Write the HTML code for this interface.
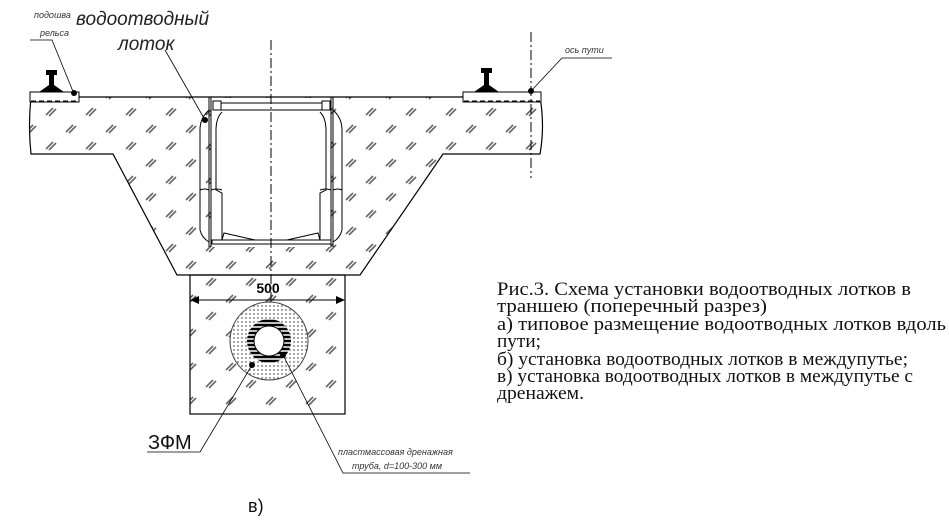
<!DOCTYPE html>
<html><head><meta charset="utf-8">
<style>
html,body{margin:0;padding:0;background:#fff;}
svg{display:block;}
.it{font-family:"Liberation Sans",sans-serif;font-style:italic;}
.sf{font-family:"Liberation Serif",serif;font-size:19px;fill:#111;}
</style></head><body>
<svg width="949" height="525" viewBox="0 0 949 525" xmlns="http://www.w3.org/2000/svg">
<defs>
<pattern id="h" width="40" height="34" patternUnits="userSpaceOnUse">
  <g stroke="#666" stroke-width="1.6">
    <line x1="6" y1="13" x2="13" y2="6"/><line x1="9" y1="14" x2="16" y2="7"/>
    <line x1="26" y1="30" x2="33" y2="23"/><line x1="29" y1="31" x2="36" y2="24"/>
  </g>
</pattern>
<pattern id="d" width="4" height="4" patternUnits="userSpaceOnUse">
  <circle cx="2" cy="2" r="0.7" fill="#222"/>
</pattern>
<clipPath id="ring"><circle cx="269" cy="341" r="22"/></clipPath>
</defs>

<path d="M31,97 L540,97 Q545,126 540,154 L443,154 L360,275 L177,275 L113,154 L31,154 Q28,126 31,97 Z" fill="url(#h)" stroke="#000" stroke-width="1.2"/>
<rect x="211" y="98" width="120" height="149" fill="#fff"/>
<rect x="190" y="275" width="155" height="139" fill="url(#h)" stroke="#000" stroke-width="1.2"/>
<rect x="30" y="92" width="49" height="10" fill="#fff" stroke="#000" stroke-width="1"/>
<line x1="31" y1="101" x2="78" y2="101" stroke="#000" stroke-dasharray="5,3"/>
<rect x="463" y="92" width="78" height="10" fill="#fff" stroke="#000" stroke-width="1"/>
<line x1="464" y1="101" x2="540" y2="101" stroke="#000" stroke-dasharray="5,3"/>
<path d="M46,70 h11 v5 h-3 v10 l10,7 h-25 l10,-7 v-10 h-3 z" fill="#000"/>
<path d="M481,68 h11 v5 h-3 v12 l10,7 h-25 l10,-7 v-12 h-3 z" fill="#000"/>

<g stroke="#000" stroke-width="1" fill="none">
  <line x1="209" y1="97" x2="209" y2="247"/><line x1="211" y1="97" x2="211" y2="247"/>
  <line x1="331" y1="97" x2="331" y2="247"/><line x1="333" y1="97" x2="333" y2="247"/>
  <path d="M209,110 Q200,118 200,130 L200,230 Q202,238 209,242"/>
  <path d="M333,110 Q342,118 342,130 L342,230 Q340,238 333,242"/>
  <path d="M200,190 q5,-2 9,0"/><path d="M333,190 q5,-2 9,0"/>
  <path d="M222,112 Q216,118 216,130 L216,190 L222,193 L222,240"/>
  <path d="M320,112 Q326,118 326,130 L326,190 L320,193 L320,240"/>
  <path d="M211,190 q6,-2 11,0"/><path d="M320,190 q6,-2 11,0"/>
  <line x1="221" y1="103" x2="322" y2="103"/><line x1="221" y1="110" x2="322" y2="110"/>
  <rect x="213" y="101" width="8" height="9" fill="#fff"/>
  <rect x="322" y="101" width="8" height="9" fill="#fff"/>
  <rect x="212" y="240" width="119" height="4"/>
  <path d="M222,240 L224,233 L255,240"/><path d="M320,240 L318,233 L287,240"/>
</g>

<line x1="271" y1="40" x2="271" y2="300" stroke="#000" stroke-width="1" stroke-dasharray="10,3,2,3"/>
<line x1="531" y1="32" x2="531" y2="178" stroke="#000" stroke-width="1" stroke-dasharray="10,3,2,3"/>

<circle cx="269" cy="341" r="39" fill="#fff" stroke="#444" stroke-width="1"/>
<circle cx="269" cy="341" r="39" fill="url(#d)"/>
<circle cx="269" cy="341" r="22" fill="#fff"/>
<g clip-path="url(#ring)" stroke="#000" stroke-width="2.4">
  <line x1="240" y1="321" x2="300" y2="321"/><line x1="240" y1="325" x2="300" y2="325"/>
  <line x1="240" y1="329" x2="300" y2="329"/><line x1="240" y1="333" x2="300" y2="333"/>
  <line x1="240" y1="337" x2="300" y2="337"/><line x1="240" y1="341" x2="300" y2="341"/>
  <line x1="240" y1="345" x2="300" y2="345"/><line x1="240" y1="349" x2="300" y2="349"/>
  <line x1="240" y1="353" x2="300" y2="353"/><line x1="240" y1="357" x2="300" y2="357"/>
  <line x1="240" y1="361" x2="300" y2="361"/>
</g>
<circle cx="269" cy="341" r="15" fill="#fff" stroke="#000" stroke-width="1"/>

<line x1="196" y1="300" x2="339" y2="300" stroke="#000" stroke-width="1"/>
<path d="M190,300 l9,-4 v8 z M345,300 l-9,-4 v8 z" fill="#000"/>
<text x="268" y="293" font-family="Liberation Sans,sans-serif" font-weight="bold" font-size="14" text-anchor="middle">500</text>

<g stroke="#000" stroke-width="0.8" fill="none">
  <path d="M74,94 L52,40 L30,40"/>
  <path d="M205,120 L165,50"/>
  <path d="M531,91 L562,58 L612,58"/>
  <path d="M252,365 L200,452 L147,452"/>
  <path d="M283,355 L343,473 L470,473"/>
</g>
<g fill="#000">
  <circle cx="74" cy="93" r="3"/><circle cx="205" cy="120" r="3"/>
  <circle cx="531" cy="91" r="3"/><circle cx="252" cy="365" r="3"/><circle cx="283" cy="355" r="3"/>
</g>

<text class="it" x="34" y="18" font-size="9" fill="#333">подошва</text>
<text class="it" x="40" y="36" font-size="9" fill="#333">рельса</text>
<text class="it" x="76" y="25" font-size="19" fill="#222">водоотводный</text>
<text class="it" x="118" y="50" font-size="19" fill="#222">лоток</text>
<text class="it" x="565" y="53" font-size="9" fill="#333">ось пути</text>
<text x="148" y="449" font-family="Liberation Sans,sans-serif" font-size="20" fill="#111">ЗФМ</text>
<text class="it" x="338" y="455" font-size="9" fill="#333">пластмассовая дренажная</text>
<text class="it" x="352" y="469" font-size="9" fill="#333">труба, d=100-300 мм</text>
<text x="248" y="512" font-family="Liberation Sans,sans-serif" font-size="18" fill="#111">в)</text>

<text class="sf" x="497" y="295" textLength="414" lengthAdjust="spacingAndGlyphs">Рис.3. Схема установки водоотводных лотков в</text>
<text class="sf" x="497" y="312" textLength="270" lengthAdjust="spacingAndGlyphs">траншею (поперечный разрез)</text>
<text class="sf" x="497" y="330" textLength="449" lengthAdjust="spacingAndGlyphs">а) типовое размещение водоотводных лотков вдоль</text>
<text class="sf" x="497" y="347" textLength="44" lengthAdjust="spacingAndGlyphs">пути;</text>
<text class="sf" x="497" y="365" textLength="411" lengthAdjust="spacingAndGlyphs">б) установка водоотводных лотков в междупутье;</text>
<text class="sf" x="497" y="382" textLength="416" lengthAdjust="spacingAndGlyphs">в) установка водоотводных лотков в междупутье с</text>
<text class="sf" x="497" y="399" textLength="87" lengthAdjust="spacingAndGlyphs">дренажем.</text>
</svg>
</body></html>
